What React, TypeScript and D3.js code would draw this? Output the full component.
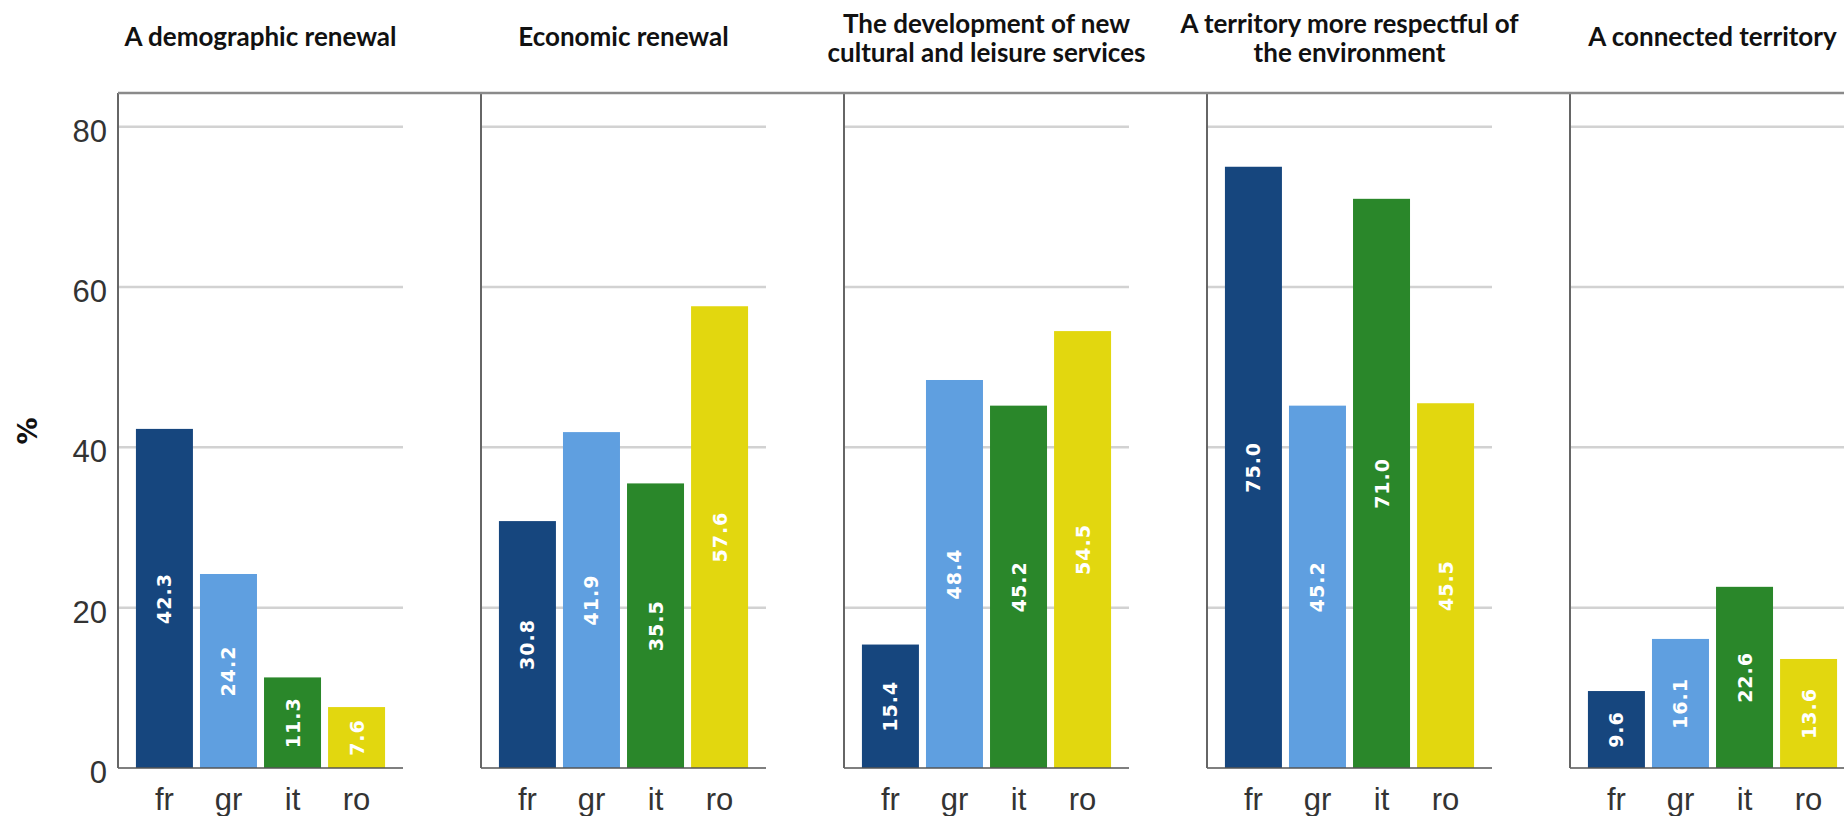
import { useRef, useEffect } from 'react'
import * as d3 from 'd3'

// panel titles (line breaks as in the original)
const categories = [
  'A demographic renewal',
  'Economic renewal',
  'The development of new cultural and leisure services',
  'A territory more respectful of the environment',
  'A connected territory',
]
const titleLines = [
  ['A demographic renewal'],
  ['Economic renewal'],
  ['The development of new', 'cultural and leisure services'],
  ['A territory more respectful of', 'the environment'],
  ['A connected territory'],
]

const countries = ['fr', 'gr', 'it', 'ro']
const colors = ['#16467e', '#5f9fe0', '#2a872a', '#e2d70f']

// % per country, one value per panel
const frValues = [42.3, 30.8, 15.4, 75.0, 9.6]
const grValues = [24.2, 41.9, 48.4, 45.2, 16.1]
const itValues = [11.3, 35.5, 45.2, 71.0, 22.6]
const roValues = [7.6, 57.6, 54.5, 45.5, 13.6]

const yTicks = [0, 20, 40, 60, 80]

function App() {
  const containerRef = useRef<HTMLDivElement>(null)

  useEffect(() => {
    if (!containerRef.current) return
    const container = containerRef.current
    container.innerHTML = ''

    const width = 1844
    const height = 816

    const svg = d3.select(container)
      .append('svg')
      .attr('width', width)
      .attr('height', height)
      .style('position', 'absolute')
      .style('left', '0px')
      .style('top', '0px')

    const series = [frValues, grValues, itValues, roValues]

    const panel = d3.scaleBand<string>()
      .domain(categories)
      .range([118, 1855])
      .paddingInner(78 / 363)
      .paddingOuter(0)

    const x = d3.scaleBand<string>()
      .domain(countries)
      .range([0, panel.bandwidth()])
      .paddingInner(0.11)
      .paddingOuter(0.28)

    const y = d3.scaleLinear()
      .domain([0, 84.2])
      .range([768, 93])

    const color = d3.scaleOrdinal<string, string>().domain(countries).range(colors)

    // y axis title
    svg.append('text')
      .attr('transform', `translate(27,${431}) rotate(-90)`)
      .attr('text-anchor', 'middle')
      .attr('dominant-baseline', 'central')
      .attr('font-family', 'DejaVu Sans, sans-serif')
      .attr('font-weight', 'bold')
      .attr('font-size', '27px')
      .attr('fill', '#111')
      .text('%')

    // y tick labels
    svg.append('g')
      .selectAll('text')
      .data(yTicks)
      .enter()
      .append('text')
      .attr('x', 107)
      .attr('y', d => y(d) + 15)
      .attr('text-anchor', 'end')
      .attr('font-family', 'Liberation Sans Narrow, Liberation Sans, Arial, sans-serif')
      .attr('font-size', '31px')
      .attr('fill', '#333')
      .text(d => d)

    categories.forEach((cat, ci) => {
      const px = panel(cat)!
      const g = svg.append('g').attr('transform', `translate(${px},0)`)
      const pw = panel.bandwidth()

      // gridlines
      g.selectAll('line.grid')
        .data(yTicks.filter(t => t > 0))
        .enter()
        .append('line')
        .attr('class', 'grid')
        .attr('x1', 0)
        .attr('x2', pw)
        .attr('y1', d => y(d))
        .attr('y2', d => y(d))
        .attr('stroke', '#d2d2d2')
        .attr('stroke-width', 2.5)

      // bars
      const rows = countries.map((c, i) => ({ country: c, value: series[i][ci] }))
      g.selectAll('rect')
        .data(rows)
        .enter()
        .append('rect')
        .attr('x', d => x(d.country)!)
        .attr('y', d => y(d.value))
        .attr('width', x.bandwidth())
        .attr('height', d => y(0) - y(d.value))
        .attr('fill', d => color(d.country))

      // value labels
      g.selectAll('text.value')
        .data(rows)
        .enter()
        .append('text')
        .attr('class', 'value')
        .attr('transform', d => `translate(${x(d.country)! + x.bandwidth() / 2},${(y(d.value) + y(0)) / 2}) rotate(-90)`)
        .attr('text-anchor', 'middle')
        .attr('dominant-baseline', 'central')
        .attr('font-family', 'DejaVu Sans, sans-serif')
        .attr('font-weight', 'bold')
        .attr('font-size', '19px')
        .attr('letter-spacing', '1px')
        .attr('fill', '#fff')
        .text(d => d.value.toFixed(1))

      // axis lines
      g.append('line')
        .attr('x1', 0).attr('x2', pw)
        .attr('y1', y(0)).attr('y2', y(0))
        .attr('stroke', '#555')
        .attr('stroke-width', 1.5)
      g.append('line')
        .attr('x1', 0).attr('x2', 0)
        .attr('y1', y.range()[1]).attr('y2', y(0))
        .attr('stroke', '#666')
        .attr('stroke-width', 2)

      // category labels
      g.selectAll('text.cat')
        .data(countries)
        .enter()
        .append('text')
        .attr('class', 'cat')
        .attr('x', d => x(d)! + x.bandwidth() / 2)
        .attr('y', 810)
        .attr('text-anchor', 'middle')
        .attr('font-family', 'Liberation Sans Narrow, Liberation Sans, Arial, sans-serif')
        .attr('font-size', '31px')
        .attr('fill', '#333')
        .text(d => d)

      // panel title
      const lines = titleLines[ci]
      const baselines = lines.length === 1 ? [46] : [33, 62]
      g.selectAll('text.title')
        .data(lines)
        .enter()
        .append('text')
        .attr('class', 'title')
        .attr('x', pw / 2)
        .attr('y', (_, i) => baselines[i])
        .attr('text-anchor', 'middle')
        .attr('font-family', 'Lato, sans-serif')
        .attr('font-weight', 'bold')
        .attr('font-size', '26px')
        .attr('fill', '#111')
        .text(d => d)
    })

    // top frame line
    svg.append('line')
      .attr('x1', 118).attr('x2', width)
      .attr('y1', y.range()[1]).attr('y2', y.range()[1])
      .attr('stroke', '#8a8a8a')
      .attr('stroke-width', 2.5)
  }, [])

  return <div ref={containerRef} />
}

export default App
